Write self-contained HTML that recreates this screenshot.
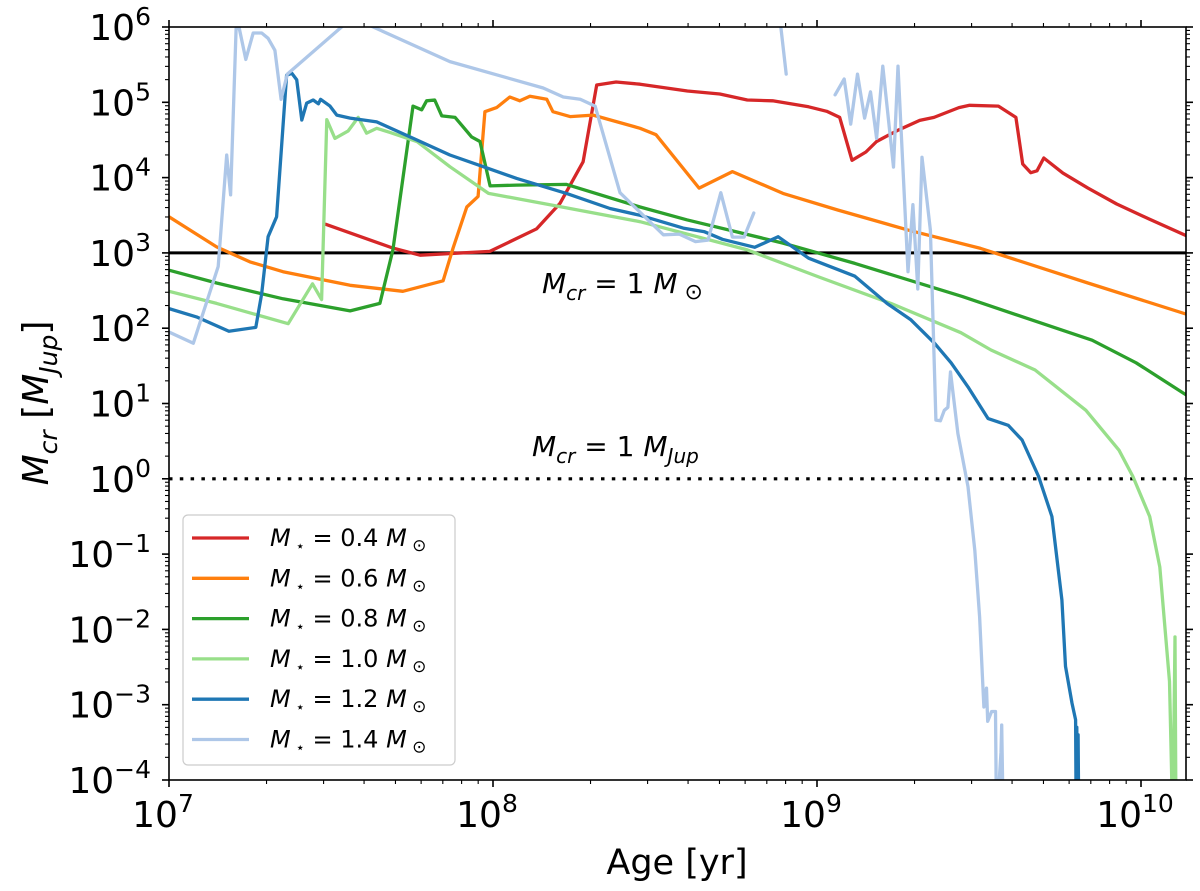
<!DOCTYPE html>
<html><head><meta charset="utf-8"><style>
html,body{margin:0;padding:0;background:#fff;}
svg{display:block;font-family:"DejaVu Sans","Liberation Sans",sans-serif;}
</style></head><body>
<svg id="chart" width="1200" height="891" viewBox="0 0 1200 891">
<defs><clipPath id="plotclip"><rect x="169" y="27" width="1017" height="753"/></clipPath></defs>
<g id="grid-lines"></g>
<g id="series" clip-path="url(#plotclip)"></g>
<g id="axes"></g>
<text x="542" y="293" font-size="28" font-style="italic">M<tspan font-size="20" dy="7">cr</tspan><tspan font-style="normal" dy="-7"> = 1 </tspan>M<tspan font-style="normal" font-size="22" dy="6"> ⊙</tspan></text>
<text x="532" y="456" font-size="28" font-style="italic">M<tspan font-size="20" dy="7">cr</tspan><tspan font-style="normal" dy="-7"> = 1 </tspan>M<tspan font-size="20" dy="7">Jup</tspan></text>
<text x="677" y="874" font-size="35" text-anchor="middle">Age [yr]</text>
<text transform="translate(48,403) rotate(-90)" font-size="36" text-anchor="middle"><tspan font-style="italic">M</tspan><tspan font-style="italic" font-size="25" dy="9">cr</tspan><tspan dy="-9"> [</tspan><tspan font-style="italic">M</tspan><tspan font-style="italic" font-size="25" dy="9">Jup</tspan><tspan dy="-9">]</tspan></text>
<g id="legend"></g>
</svg>
<script>
// log10(age/yr) and log10(Mcr/MJup)
const seriesLabels = ["0.4","0.6","0.8","1.0","1.2","1.4"];
const seriesColors = ["#d62728","#ff7f0e","#2ca02c","#98df8a","#1f77b4","#aec7e8"];
const ageM04 = [7.484,7.69,7.775,7.99,8.135,8.207,8.278,8.32,8.38,8.454,8.6,8.70,8.785,8.863,8.974,9.03,9.07,9.108,9.151,9.184,9.25,9.317,9.361,9.438,9.471,9.56,9.614,9.635,9.66,9.679,9.70,9.759,9.836,9.925,10.025,10.144];
const mcrM04 = [3.38,3.065,2.97,3.02,3.32,3.66,4.21,5.23,5.27,5.24,5.15,5.11,5.03,5.02,4.94,4.88,4.80,4.23,4.34,4.48,4.63,4.76,4.80,4.93,4.96,4.95,4.80,4.18,4.065,4.09,4.26,4.06,3.86,3.65,3.45,3.22];
const ageM06 = [7.0,7.147,7.25,7.352,7.559,7.722,7.846,7.877,7.919,7.954,7.975,8.011,8.052,8.083,8.114,8.166,8.185,8.238,8.309,8.454,8.503,8.636,8.739,8.895,9.064,9.284,9.505,9.836,10.144];
const mcrM06 = [3.48,3.08,2.88,2.75,2.57,2.49,2.63,3.065,3.61,3.75,4.875,4.93,5.07,5.02,5.08,5.04,4.875,4.81,4.83,4.655,4.57,3.86,4.08,3.79,3.57,3.30,3.06,2.60,2.18];
const ageM08 = [7.0,7.147,7.352,7.559,7.651,7.691,7.753,7.78,7.795,7.82,7.842,7.883,7.934,7.96,7.991,8.073,8.227,8.454,8.598,8.895,9.117,9.449,9.725,9.849,9.985,10.148];
const mcrM08 = [2.77,2.60,2.39,2.23,2.33,3.04,4.95,4.90,5.02,5.03,4.82,4.80,4.54,4.48,3.89,3.90,3.91,3.61,3.44,3.13,2.86,2.42,2.02,1.84,1.54,1.09];
const ageM10 = [7.0,7.147,7.368,7.443,7.471,7.487,7.512,7.553,7.584,7.61,7.641,7.682,7.765,7.867,7.986,8.176,8.454,8.785,9.006,9.228,9.444,9.537,9.673,9.83,9.932,9.975,10.027,10.058,10.088,10.098,10.105,10.108];
const mcrM10 = [2.49,2.33,2.06,2.59,2.38,4.77,4.52,4.62,4.80,4.59,4.655,4.60,4.48,4.145,3.79,3.64,3.415,3.04,2.68,2.33,1.94,1.71,1.445,0.91,0.38,0.03,-0.50,-1.17,-2.69,-4.6,-2.1,-4.6];
const ageM12 = [7.0,7.085,7.185,7.268,7.286,7.306,7.332,7.363,7.379,7.394,7.41,7.425,7.445,7.461,7.468,7.497,7.518,7.559,7.641,7.765,7.867,7.97,8.073,8.227,8.361,8.454,8.587,8.653,8.708,8.808,8.88,8.974,9.117,9.216,9.29,9.363,9.414,9.466,9.528,9.59,9.633,9.684,9.725,9.756,9.767,9.787,9.798,9.800,9.802,9.804,9.806,9.808];
const mcrM12 = [2.26,2.15,1.96,2.01,2.46,3.215,3.48,5.36,5.385,5.30,4.765,4.99,5.03,4.98,5.04,4.95,4.83,4.79,4.74,4.50,4.30,4.145,3.99,3.79,3.59,3.50,3.33,3.28,3.18,3.075,3.215,2.93,2.69,2.33,2.11,1.80,1.54,1.22,0.80,0.71,0.515,0.03,-0.50,-1.61,-2.49,-2.98,-3.20,-4.6,-3.3,-4.6,-3.4,-4.6];
const ageM14 = [7.0,7.075,7.152,7.178,7.19,7.207,7.217,7.237,7.26,7.286,7.306,7.327,7.346,7.365,7.538,7.62,7.867,8.155,8.217,8.269,8.315,8.392,8.485,8.526,8.575,8.625,8.664,8.703,8.739,8.775,8.805,null,8.887,8.905,null,9.056,9.084,9.104,9.125,9.147,9.165,9.184,9.203,9.236,9.25,9.281,9.296,9.311,9.324,9.35,9.367,9.381,9.393,9.404,9.412,9.435,9.466,9.487,9.502,9.512,9.515,9.523,9.527,9.539,9.551,9.554,9.568,9.57,9.575];
const mcrM14 = [1.95,1.80,2.82,4.30,3.77,5.98,5.98,5.57,5.92,5.92,5.85,5.69,5.04,5.375,6.02,6.02,5.54,5.19,5.07,5.04,4.95,3.80,3.41,3.24,3.25,3.15,3.17,3.80,3.21,3.21,3.53,null,6.05,5.375,null,5.10,5.31,4.71,5.375,4.79,5.14,4.52,5.48,4.14,5.48,2.75,3.64,2.52,4.27,3.30,0.78,0.77,0.91,0.95,1.42,0.60,-0.105,-0.95,-1.83,-2.76,-3.03,-2.78,-3.22,-3.09,-3.09,-4.6,-3.63,-3.27,-4.6];
const xTickExps = [7,8,9,10];
const yTickExps = [6,5,4,3,2,1,0,-1,-2,-3,-4];
const refLineSolar = 3;
const refLineJup = 0;

const NS="http://www.w3.org/2000/svg";
const X0=169,X1=1186,Y0=27,Y1=780;
const XMIN=7,XMAX=7+(X1-X0)/324,YMIN=-4,YMAX=6;
function sx(l){return X0+(l-XMIN)/(XMAX-XMIN)*(X1-X0);}
function sy(l){return Y1-(l-YMIN)/(YMAX-YMIN)*(Y1-Y0);}
function mk(tag,attrs,parent){const e=document.createElementNS(NS,tag);for(const k in attrs)e.setAttribute(k,attrs[k]);parent.appendChild(e);return e;}

const ref=document.getElementById('grid-lines');
let l1=mk('line',{x1:X0,x2:X1,y1:sy(refLineSolar),y2:sy(refLineSolar),stroke:'#000','stroke-width':3},ref);


let l2=mk('line',{x1:X0,x2:X1,y1:sy(refLineJup),y2:sy(refLineJup),stroke:'#000','stroke-width':3.2,'stroke-dasharray':'3.5 7.3'},ref);



const ages=[ageM04,ageM06,ageM08,ageM10,ageM12,ageM14];
const mcrs=[mcrM04,mcrM06,mcrM08,mcrM10,mcrM12,mcrM14];
const sg=document.getElementById('series');
ages.forEach((a,i)=>{
  let d='',pen=false;
  for(let j=0;j<a.length;j++){
    if(a[j]===null||mcrs[i][j]===null){pen=false;continue;}
    d+=(pen?'L':'M')+sx(a[j]).toFixed(1)+' '+sy(mcrs[i][j]).toFixed(1)+' ';pen=true;
  }
  const p=mk('path',{d:d,fill:'none',stroke:seriesColors[i],'stroke-width':3.3,'stroke-linejoin':'round','stroke-linecap':'round'},sg);
  
  
});

const ax=document.getElementById('axes');
const fr=mk('rect',{x:X0,y:Y0,width:X1-X0,height:Y1-Y0,fill:'none',stroke:'#000','stroke-width':1.6},ax);


for(let e=7;e<=10;e++){for(let m=1;m<10;m++){const l=e+Math.log10(m);if(l>XMAX)break;const x=sx(l);const len=m===1?7:4;
  mk('line',{x1:x,x2:x,y1:Y1,y2:Y1+len,stroke:'#000','stroke-width':m===1?1.6:1.1},ax);
  mk('line',{x1:x,x2:x,y1:Y0,y2:Y0-len,stroke:'#000','stroke-width':m===1?1.6:1.1},ax);}}
xTickExps.forEach(e=>{const t=mk('text',{x:sx(e)-6,y:Y1+47,'font-size':36,'text-anchor':'middle'},ax);
  t.innerHTML='10<tspan font-size="25" dy="-15">'+e+'</tspan>';
  
  });
for(let e=-4;e<6;e++){for(let m=1;m<10;m++){const l=e+Math.log10(m);const y=sy(l);const len=m===1?7:4;
  mk('line',{x1:X0,x2:X0-len,y1:y,y2:y,stroke:'#000','stroke-width':m===1?1.6:1.1},ax);
  mk('line',{x1:X1,x2:X1+len,y1:y,y2:y,stroke:'#000','stroke-width':m===1?1.6:1.1},ax);}}
mk('line',{x1:X0,x2:X0-7,y1:Y0,y2:Y0,stroke:'#000','stroke-width':1.6},ax);
mk('line',{x1:X1,x2:X1+7,y1:Y0,y2:Y0,stroke:'#000','stroke-width':1.6},ax);
yTickExps.forEach(e=>{const t=mk('text',{x:151,y:sy(e)+13,'font-size':36,'text-anchor':'end'},ax);
  t.innerHTML='10<tspan font-size="25" dy="-15">'+(e<0?'\u2212'+(-e):e)+'</tspan>';
  
  });

const lg=document.getElementById('legend');
const box=mk('rect',{x:183,y:515,width:272,height:250,rx:5,fill:'#fff','fill-opacity':0.8,stroke:'#ccc','stroke-width':1.2},lg);


seriesLabels.forEach((s,i)=>{const y=538+i*40.3;
  const ln=mk('line',{x1:192,x2:249,y1:y,y2:y,stroke:seriesColors[i],'stroke-width':3.3},lg);
  
  
  const t=mk('text',{x:270,y:y+8,'font-size':24},lg);
  t.innerHTML='<tspan font-style="italic">M</tspan><tspan font-size="15" dy="5"> \u22c6</tspan><tspan dy="-5"> = '+s+' </tspan><tspan font-style="italic">M</tspan><tspan font-size="17" dy="5"> \u2299</tspan>';
  
  });
</script>
</body></html>
